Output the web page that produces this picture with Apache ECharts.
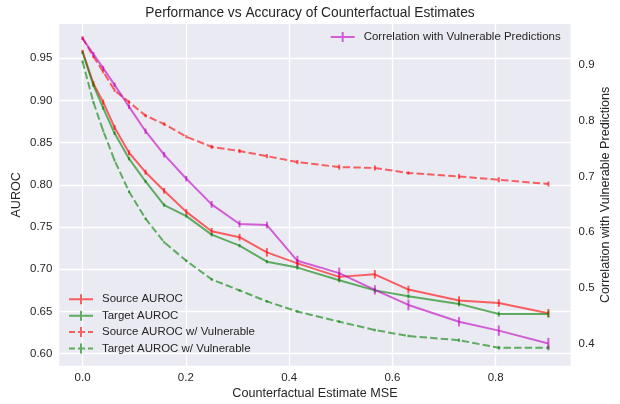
<!DOCTYPE html>
<html><head><meta charset="utf-8">
<script src="https://cdn.jsdelivr.net/npm/echarts@6/dist/echarts.min.js"></script>
<style>html,body{margin:0;padding:0;background:#fff}#c{width:620px;height:404px}</style>
</head><body><div id="c"></div>
<script>
// ---- data ----
const xValues = [0.0, 0.021, 0.040, 0.062, 0.090, 0.122, 0.158, 0.201, 0.250, 0.304, 0.357, 0.416, 0.497, 0.566, 0.631, 0.729, 0.806, 0.902];

const sourceAuroc    = [0.958, 0.920, 0.898, 0.868, 0.838, 0.815, 0.793, 0.768, 0.745, 0.738, 0.720, 0.707, 0.691, 0.694, 0.676, 0.663, 0.660, 0.648];
const sourceAurocErr = [0.002, 0.003, 0.003, 0.003, 0.003, 0.003, 0.0035, 0.0035, 0.004, 0.004, 0.005, 0.005, 0.005, 0.005, 0.0045, 0.005, 0.0045, 0.005];

const targetAuroc    = [0.957, 0.918, 0.891, 0.861, 0.831, 0.804, 0.776, 0.763, 0.741, 0.728, 0.709, 0.702, 0.687, 0.675, 0.668, 0.659, 0.647, 0.647];
const targetAurocErr = [0.002, 0.002, 0.002, 0.002, 0.002, 0.002, 0.002, 0.002, 0.002, 0.002, 0.002, 0.0025, 0.0025, 0.0025, 0.0025, 0.003, 0.003, 0.004];

const sourceVuln     = [0.974, 0.952, 0.934, 0.912, 0.898, 0.882, 0.872, 0.857, 0.845, 0.840, 0.834, 0.827, 0.821, 0.820, 0.814, 0.810, 0.806, 0.801];
const sourceVulnErr  = [0.002, 0.002, 0.002, 0.002, 0.002, 0.002, 0.002, 0.002, 0.0025, 0.0025, 0.0025, 0.0025, 0.003, 0.003, 0.002, 0.003, 0.003, 0.003];

const targetVuln     = [0.946, 0.898, 0.864, 0.829, 0.792, 0.760, 0.732, 0.710, 0.688, 0.675, 0.662, 0.650, 0.638, 0.628, 0.621, 0.616, 0.607, 0.607];
const targetVulnErr  = [0.0015, 0.0015, 0.0015, 0.0015, 0.0015, 0.0015, 0.0015, 0.0015, 0.0015, 0.0015, 0.0015, 0.0015, 0.0015, 0.0015, 0.0015, 0.002, 0.002, 0.003];

const correlation    = [0.947, 0.919, 0.894, 0.864, 0.825, 0.781, 0.739, 0.696, 0.650, 0.615, 0.613, 0.549, 0.527, 0.497, 0.470, 0.440, 0.424, 0.401];
const correlationErr = [0.003, 0.004, 0.004, 0.004, 0.004, 0.005, 0.005, 0.005, 0.006, 0.006, 0.006, 0.009, 0.0098, 0.0083, 0.0095, 0.0083, 0.0092, 0.0101];

const xTicks = [0.0, 0.2, 0.4, 0.6, 0.8];
const leftTicks = [0.60, 0.65, 0.70, 0.75, 0.80, 0.85, 0.90, 0.95];
const rightTicks = [0.4, 0.5, 0.6, 0.7, 0.8, 0.9];

const seriesNames = ['Source AUROC', 'Target AUROC', 'Source AUROC w/ Vulnerable', 'Target AUROC w/ Vulnerable'];
const corrName = 'Correlation with Vulnerable Predictions';

// ---- styling ----
const FONT = "'Liberation Sans', Arial, sans-serif";
const TXT = '#262626';
const RED = 'rgba(255,0,0,0.6)';
const GREEN = 'rgba(0,128,0,0.6)';
const MAG = 'rgba(191,0,191,0.6)';
const DASH = [7.4, 3.2];

const solidIcon = 'path://M0,4 L24,4 L24,6 L0,6 Z M11,0 L13,0 L13,10 L11,10 Z';
const dashIcon = 'path://M0,4 L6,4 L6,6 L0,6 Z M9,4 L16,4 L16,6 L9,6 Z M19,4 L24,4 L24,6 L19,6 Z M11,0 L13,0 L13,10 L11,10 Z';

function pairs(ys) { return xValues.map((x, i) => [x, ys[i]]); }
function triples(ys, es) { return xValues.map((x, i) => [x, ys[i], es[i]]); }

function lineSeries(name, ys, color, dashed, yAxisIndex) {
  return {
    name, type: 'line', yAxisIndex, data: pairs(ys), color,
    symbol: 'none', silent: true, animation: false,
    lineStyle: { width: 2, color, type: dashed ? DASH : 'solid' }
  };
}
function errSeries(name, ys, es, color, yAxisIndex) {
  return {
    name, type: 'custom', yAxisIndex, data: triples(ys, es), silent: true, animation: false,
    renderItem: function (params, api) {
      const x = api.value(0), y = api.value(1), e = api.value(2);
      const p1 = api.coord([x, y - e]);
      const p2 = api.coord([x, y + e]);
      return { type: 'line', shape: { x1: p1[0], y1: p1[1], x2: p2[0], y2: p2[1] },
               style: { stroke: color, lineWidth: 2 } };
    }
  };
}

const axisLabelBase = { color: TXT, fontSize: 11.46, fontFamily: FONT };
const nameStyle = { color: TXT, fontSize: 12.6, fontFamily: FONT };

const option = {
  backgroundColor: '#ffffff',
  animation: false,
  title: {
    text: 'Performance vs Accuracy of Counterfactual Estimates',
    left: 'center', top: 6, padding: [0, 0, 0, 10],
    textStyle: { color: TXT, fontSize: 13.75, fontWeight: 'normal', fontFamily: FONT }
  },
  grid: { left: 59.3, right: 49.4, top: 24, bottom: 38.3, show: true, backgroundColor: '#EAEAF2', borderWidth: 0,
          containLabel: false, outerBoundsMode: 'none' },
  xAxis: {
    type: 'value', min: -0.045, max: 0.945,
    axisLine: { show: false },
    axisTick: { show: false, customValues: xTicks },
    axisLabel: Object.assign({ customValues: xTicks, margin: 7, formatter: v => v.toFixed(1) }, axisLabelBase),
    splitLine: { show: true, lineStyle: { color: '#ffffff', width: 1.3 } },
    name: 'Counterfactual Estimate MSE', nameLocation: 'middle', nameGap: 21, nameMoveOverlap: false, nameTextStyle: nameStyle
  },
  yAxis: [
    {
      type: 'value', position: 'left', min: 0.5858, max: 0.9905,
      axisLine: { show: false },
      axisTick: { show: false, customValues: leftTicks },
      axisLabel: Object.assign({ customValues: leftTicks, margin: 7, formatter: v => v.toFixed(2) }, axisLabelBase),
      splitLine: { show: true, lineStyle: { color: '#ffffff', width: 1.3 } },
      name: 'AUROC', nameLocation: 'middle', nameRotate: 90, nameGap: 36, nameMoveOverlap: false, nameTextStyle: nameStyle
    },
    {
      type: 'value', position: 'right', min: 0.3612, max: 0.9730,
      axisLine: { show: false },
      axisTick: { show: false, customValues: rightTicks },
      axisLabel: Object.assign({ customValues: rightTicks, margin: 8, formatter: v => v.toFixed(1) }, axisLabelBase),
      splitLine: { show: false },
      name: corrName, nameLocation: 'middle', nameRotate: 90, nameGap: 28, nameMoveOverlap: false, nameTextStyle: nameStyle
    }
  ],
  legend: [
    {
      orient: 'vertical', left: 69, top: 293.3, padding: 0,
      itemWidth: 24, itemHeight: 10, itemGap: 4.4, selectedMode: false,
      itemStyle: { borderWidth: 0 },
      textStyle: { color: TXT, fontSize: 11.46, fontFamily: FONT, lineHeight: 12, padding: [0, 0, 0, 4] },
      data: [
        { name: seriesNames[0], icon: solidIcon },
        { name: seriesNames[1], icon: solidIcon },
        { name: seriesNames[2], icon: dashIcon },
        { name: seriesNames[3], icon: dashIcon }
      ]
    },
    {
      orient: 'vertical', left: 330.7, top: 31, padding: 0,
      itemWidth: 24, itemHeight: 10, selectedMode: false,
      itemStyle: { borderWidth: 0 },
      textStyle: { color: TXT, fontSize: 11.46, fontFamily: FONT, lineHeight: 12, padding: [0, 0, 0, 4] },
      data: [{ name: corrName, icon: solidIcon }]
    }
  ],
  series: [
    lineSeries(seriesNames[0], sourceAuroc, RED, false, 0),
    errSeries('err0', sourceAuroc, sourceAurocErr, RED, 0),
    lineSeries(seriesNames[1], targetAuroc, GREEN, false, 0),
    errSeries('err1', targetAuroc, targetAurocErr, GREEN, 0),
    lineSeries(seriesNames[2], sourceVuln, RED, true, 0),
    errSeries('err2', sourceVuln, sourceVulnErr, RED, 0),
    lineSeries(seriesNames[3], targetVuln, GREEN, true, 0),
    errSeries('err3', targetVuln, targetVulnErr, GREEN, 0),
    lineSeries(corrName, correlation, MAG, false, 1),
    errSeries('err4', correlation, correlationErr, MAG, 1)
  ]
};

const chart = echarts.init(document.getElementById('c'), null, { renderer: 'canvas' });
chart.setOption(option);
</script>
</body></html>
